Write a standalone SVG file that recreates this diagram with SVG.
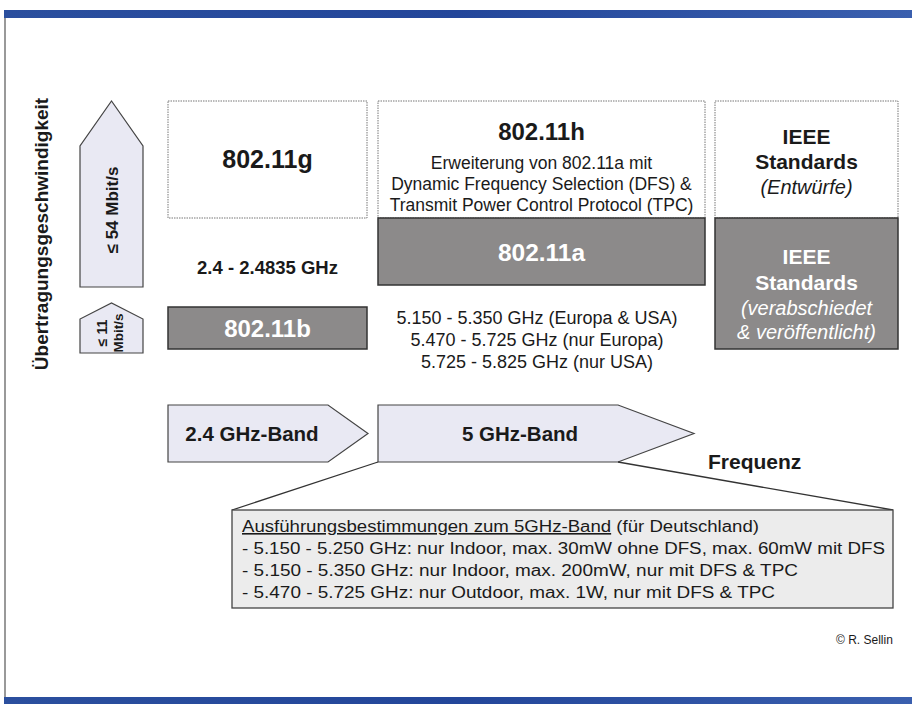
<svg xmlns="http://www.w3.org/2000/svg" width="912" height="704" viewBox="0 0 912 704">
<defs>
<linearGradient id="blue" x1="0" y1="0" x2="1" y2="0">
<stop offset="0" stop-color="#2b4f9e"/><stop offset="0.5" stop-color="#23469a"/><stop offset="1" stop-color="#3a5fae"/>
</linearGradient>
<style>
.t{font-family:"Liberation Sans",Arial,sans-serif;fill:#1a1a1a}
.b{font-weight:bold}
.i{font-style:italic}
.w{fill:#ffffff}
.dotbox{fill:#ffffff;stroke:#777;stroke-width:1;stroke-dasharray:1.5 1}
.dark{fill:#8c8a8a;stroke:#333;stroke-width:1.5}
.light{fill:#e9e9f3;stroke:#444;stroke-width:1.2}
.ln{stroke:#333;stroke-width:1.3;fill:none}
</style>
</defs>
<rect x="0" y="0" width="912" height="704" fill="#ffffff"/>
<rect x="4" y="10" width="908" height="8" fill="url(#blue)"/>
<rect x="4" y="697" width="908" height="7" fill="url(#blue)"/>
<line x1="5" y1="18" x2="5" y2="697" stroke="#555" stroke-width="1.2"/>

<g id="axis-label">
<text class="t b" font-size="19" text-anchor="middle" transform="translate(48,234) rotate(-90)">Übertragungsgeschwindigkeit</text>
</g>
<g id="arrow-54">
<path class="light" d="M80,287 L80,146 L111.5,101 L143,146 L143,287 Z"/>
<text class="t b" font-size="17" text-anchor="middle" transform="translate(118,210) rotate(-90)">≤ 54 Mbit/s</text>
</g>
<g id="arrow-11">
<path class="light" d="M80,353 L80,319 L111.5,303 L143,319 L143,353 Z"/>
<text class="t b" font-size="14" text-anchor="middle" transform="translate(107,333) rotate(-90)">≤ 11</text>
<text class="t b" font-size="13.5" text-anchor="middle" transform="translate(123,333) rotate(-90)">Mbit/s</text>
</g>

<g id="n-80211g">
<rect class="dotbox" x="168" y="101" width="199" height="117"/>
<text class="t b" font-size="25" text-anchor="middle" x="267.5" y="168">802.11g</text>
</g>
<g id="n-80211h">
<rect class="dotbox" x="378" y="101" width="327" height="117"/>
<text class="t b" font-size="24" text-anchor="middle" x="541.5" y="140">802.11h</text>
<text class="t" font-size="17.5" text-anchor="middle" x="541.5" y="169">Erweiterung von 802.11a mit</text>
<text class="t" font-size="17.5" text-anchor="middle" x="541.5" y="190">Dynamic Frequency Selection (DFS) &amp;</text>
<text class="t" font-size="17.5" text-anchor="middle" x="541.5" y="211">Transmit Power Control Protocol (TPC)</text>
</g>
<g id="n-ieee-draft">
<rect class="dotbox" x="715" y="101" width="183" height="117"/>
<text class="t b" font-size="21" text-anchor="middle" x="806.5" y="144">IEEE</text>
<text class="t b" font-size="21" text-anchor="middle" x="806.5" y="169">Standards</text>
<text class="t i" font-size="20" text-anchor="middle" x="806.5" y="194">(Entwürfe)</text>
</g>
<g id="n-80211a">
<rect class="dark" x="378" y="218" width="327" height="67"/>
<text class="t b w" font-size="24.5" text-anchor="middle" x="541.5" y="261">802.11a</text>
</g>
<g id="n-ieee-approved">
<rect class="dark" x="715" y="218" width="183" height="131"/>
<text class="t b w" font-size="21" text-anchor="middle" x="806.5" y="264">IEEE</text>
<text class="t b w" font-size="21" text-anchor="middle" x="806.5" y="290">Standards</text>
<text class="t i w" font-size="20" text-anchor="middle" x="806.5" y="315">(verabschiedet</text>
<text class="t i w" font-size="20" text-anchor="middle" x="806.5" y="339">&amp; veröffentlicht)</text>
</g>
<g id="n-80211b">
<rect class="dark" x="168" y="307" width="199" height="42"/>
<text class="t b w" font-size="24" text-anchor="middle" x="267.5" y="337">802.11b</text>
</g>
<g id="freq-24">
<text class="t b" font-size="18.5" text-anchor="middle" x="267.5" y="274">2.4 - 2.4835 GHz</text>
</g>
<g id="freq-5">
<text class="t" font-size="18" text-anchor="middle" x="537" y="324">5.150 - 5.350 GHz (Europa &amp; USA)</text>
<text class="t" font-size="18" text-anchor="middle" x="537" y="346">5.470 - 5.725 GHz (nur Europa)</text>
<text class="t" font-size="18" text-anchor="middle" x="537" y="368">5.725 - 5.825 GHz (nur USA)</text>
</g>

<g id="band-24">
<path class="light" d="M168,405 L328,405 L368,433.5 L328,462 L168,462 Z"/>
<text class="t b" font-size="20.5" text-anchor="middle" x="252" y="441">2.4 GHz-Band</text>
</g>
<g id="band-5">
<path class="light" d="M378,405 L618,405 L694,433.5 L618,462 L378,462 Z"/>
<text class="t b" font-size="20.5" text-anchor="middle" x="520" y="441">5 GHz-Band</text>
</g>
<g id="frequenz">
<text class="t b" font-size="21" x="708" y="469">Frequenz</text>
</g>

<g id="connectors">
<line class="ln" x1="378" y1="462" x2="232" y2="510"/>
<line class="ln" x1="618" y1="462" x2="893" y2="510"/>
</g>

<g id="callout">
<rect x="232" y="510" width="661" height="98" fill="#ececec" stroke="#444" stroke-width="1.3"/>
<text class="t" font-size="16" x="242" y="532" textLength="517" lengthAdjust="spacingAndGlyphs"><tspan text-decoration="underline">Ausführungsbestimmungen zum 5GHz-Band</tspan> (für Deutschland)</text>
<text class="t" font-size="16" x="242" y="554" textLength="643" lengthAdjust="spacingAndGlyphs">- 5.150 - 5.250 GHz: nur Indoor, max. 30mW ohne DFS, max. 60mW mit DFS</text>
<text class="t" font-size="16" x="242" y="576" textLength="556" lengthAdjust="spacingAndGlyphs">- 5.150 - 5.350 GHz: nur Indoor, max. 200mW, nur mit DFS &amp; TPC</text>
<text class="t" font-size="16" x="242" y="598" textLength="533" lengthAdjust="spacingAndGlyphs">- 5.470 - 5.725 GHz: nur Outdoor, max. 1W, nur mit DFS &amp; TPC</text>
</g>
<g id="copyright">
<text class="t" font-size="12" x="836" y="644">© R. Sellin</text>
</g>
</svg>
